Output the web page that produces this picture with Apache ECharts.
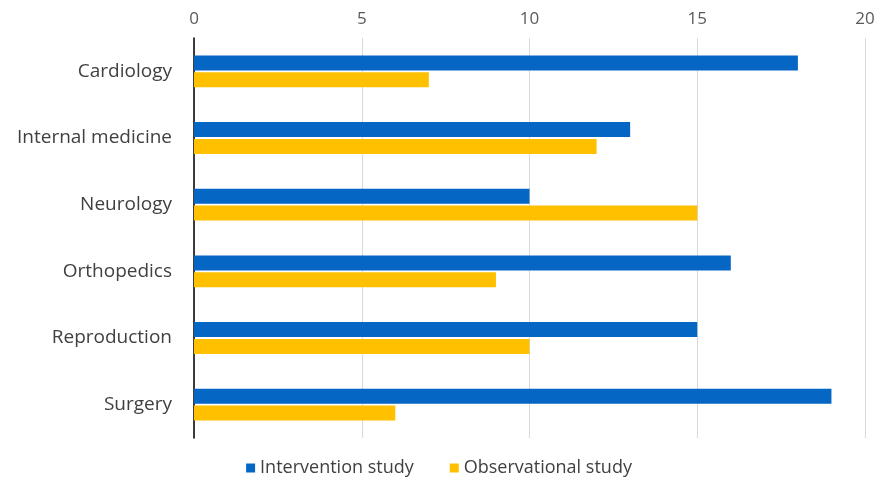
<!DOCTYPE html>
<html><head><meta charset="utf-8">
<script src="https://cdn.jsdelivr.net/npm/echarts@6/dist/echarts.min.js"></script>
<style>html,body{margin:0;padding:0;background:#fff}#c{width:878px;height:479px}</style>
</head><body><div id="c"></div>
<script>
const categories = ["Cardiology","Internal medicine","Neurology","Orthopedics","Reproduction","Surgery"];
const intervention = [18,13,10,16,15,19];
const observational = [7,12,15,9,10,6];
const xTicks = [0,5,10,15,20];
const seriesNames = ["Intervention study","Observational study"];

const chart = echarts.init(document.getElementById('c'));
const font = "'Open Sans', 'DejaVu Sans', sans-serif";
chart.setOption({
  animation:false,
  textStyle:{fontFamily:font},
  grid:{left:194,right:13,top:38,bottom:41},
  legend:{
    data:seriesNames, bottom:-3, left:'center',
    itemWidth:9,itemHeight:9,itemGap:36,icon:'rect',
    textStyle:{fontSize:18,color:'#404040',fontFamily:font}
  },
  xAxis:{
    type:'value',position:'top',min:xTicks[0],max:xTicks[xTicks.length-1],interval:5,
    axisLine:{show:false},axisTick:{show:false},
    axisLabel:{fontSize:17,color:'#595959',margin:10},
    splitLine:{lineStyle:{color:'#d9d9d9',width:1}}
  },
  yAxis:{
    type:'category',data:categories,inverse:true,
    axisLine:{show:true,lineStyle:{color:'#000',width:1.5}},
    axisTick:{show:false},
    axisLabel:{fontSize:19,color:'#404040',margin:22}
  },
  series:[
    {name:seriesNames[0],type:'bar',data:intervention,barWidth:15,barGap:'12%',itemStyle:{color:'#0566C4'}},
    {name:seriesNames[1],type:'bar',data:observational,barWidth:15,itemStyle:{color:'#FFC000'}}
  ]
});
</script></body></html>
